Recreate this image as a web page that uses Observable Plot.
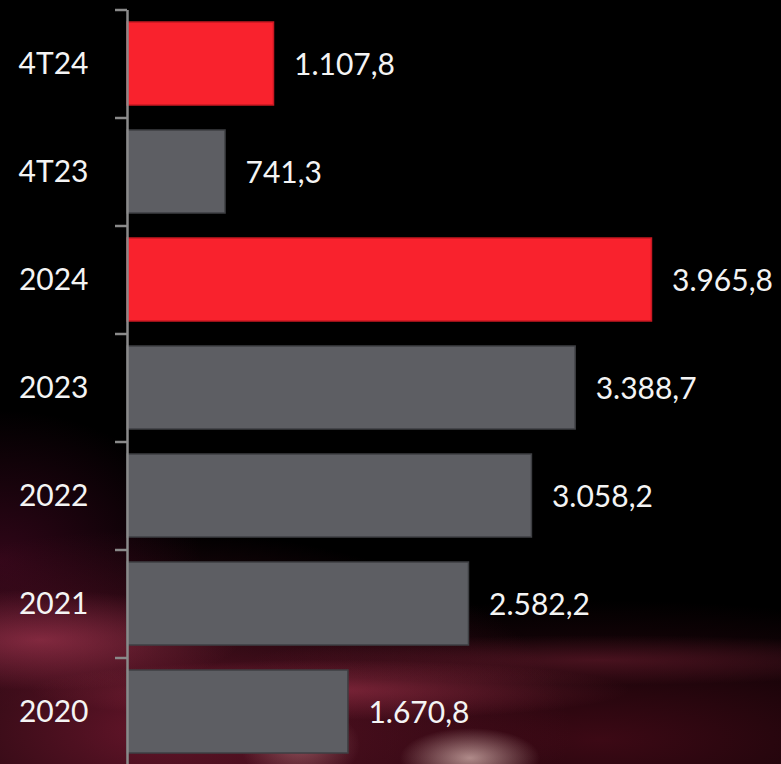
<!DOCTYPE html>
<html>
<head>
<meta charset="utf-8">
<script src="https://cdn.jsdelivr.net/npm/d3@7"></script>
<script src="https://cdn.jsdelivr.net/npm/@observablehq/plot@0.6"></script>
<style>
  html, body { margin: 0; padding: 0; }
  body {
    width: 781px; height: 764px; overflow: hidden;
    background:
      radial-gradient(ellipse 70px 30px at 470px 758px, rgba(255,225,215,0.6), rgba(255,200,190,0) 100%),
      radial-gradient(ellipse 60px 40px at 300px 745px, rgba(255,190,190,0.35), rgba(255,200,190,0) 100%),
      radial-gradient(ellipse 300px 30px at 330px 690px, rgba(210,70,100,0.4), rgba(120,20,50,0) 100%),
      radial-gradient(ellipse 350px 25px at 600px 660px, rgba(180,50,80,0.3), rgba(120,20,50,0) 100%),
      radial-gradient(ellipse 200px 50px at 40px 640px, rgba(200,70,100,0.5), rgba(120,20,50,0) 100%),
      radial-gradient(ellipse 420px 200px at 150px 730px, rgba(120,25,50,0.8), rgba(60,5,20,0) 100%),
      radial-gradient(ellipse 520px 140px at 600px 740px, rgba(100,15,35,0.6), rgba(40,5,10,0) 100%),
      radial-gradient(ellipse 200px 150px at 0px 560px, rgba(80,10,40,0.6), rgba(40,5,10,0) 100%),
      #000;
  }
  #chart svg { display: block; background: transparent; }
</style>
</head>
<body>
<div id="chart"></div>
<script>
const categories = ["4T24", "4T23", "2024", "2023", "2022", "2021", "2020"];
const values = [1107.8, 741.3, 3965.8, 3388.7, 3058.2, 2582.2, 1670.8];
const highlighted = ["4T24", "2024"];

const data = categories.map((c, i) => ({cat: c, value: values[i], hl: highlighted.includes(c)}));

const fmt = d3.formatLocale({decimal: ",", thousands: ".", grouping: [3], currency: ["", ""]}).format(",.1f");

const W = 781, H = 764, mTop = 10, mBottom = -2;
const step = (H - mTop - mBottom) / categories.length;
const font = "Lato, 'DejaVu Sans', sans-serif";

const chart = Plot.plot({
  width: W,
  height: H,
  marginTop: mTop,
  marginBottom: mBottom,
  marginLeft: 127,
  marginRight: 125,
  style: {background: "transparent", color: "#f2f2f2", fontFamily: font, fontSize: "30px", fontWeight: 400},
  x: {domain: [0, 4000], axis: null},
  y: {domain: categories, paddingInner: 0.23, paddingOuter: 0.115, label: null},
  marks: [
    Plot.barX(data, {
      y: "cat", x: "value",
      fill: d => d.hl ? "#f9222d" : "#5d5e63",
      stroke: d => d.hl ? "#c81822" : "#3e3f43",
      strokeWidth: 1.5
    }),
    Plot.text(data, {
      y: "cat", x: "value",
      text: d => fmt(d.value),
      textAnchor: "start", dx: 20, dy: 1,
      fill: "#f4f4f4", fontSize: 30, fontWeight: 400, fontFamily: font
    }),
    Plot.axisY({tickSize: 12, fill: "none", tickFormat: () => "", dy: -step / 2, stroke: "#8a8a8a", strokeWidth: 2.5, label: null}),
    Plot.axisY({tickSize: 0, tickPadding: 39, fill: "#f4f4f4", fontSize: 30, fontWeight: 400, fontFamily: font, label: null}),
    Plot.ruleX([0], {stroke: "#8a8a8a", strokeWidth: 2.5})
  ]
});

document.getElementById("chart").appendChild(chart);
</script>
</body>
</html>
